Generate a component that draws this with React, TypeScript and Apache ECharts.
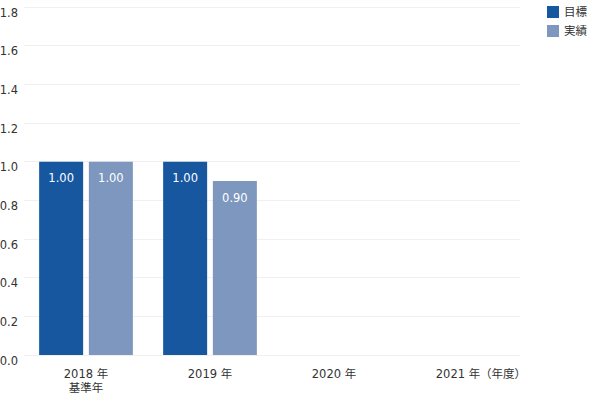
import React, { useEffect, useRef } from "react";
import * as echarts from "echarts";

const categories = ["2018 年\n基準年", "2019 年", "2020 年", "2021 年"];
const targetValues: (number | null)[] = [1.0, 1.0, null, null];
const actualValues: (number | null)[] = [1.0, 0.9, null, null];
const seriesNames = ["目標", "実績"];
const unitLabel = "（年度）";

const FONT = "'DejaVu Sans', Verdana, 'Noto Sans CJK JP', sans-serif";

export default function App() {
  const ref = useRef<HTMLDivElement>(null);
  useEffect(() => {
    if (!ref.current) return;
    const chart = echarts.init(ref.current, null, { renderer: "svg" });
    const labelCfg = {
      show: true,
      position: "insideTop",
      distance: 11,
      color: "#ffffff",
      fontSize: 11.5,
      fontFamily: FONT,
      formatter: (p: any) => Number(p.value).toFixed(2),
    };
    chart.setOption({
      animation: false,
      textStyle: { fontFamily: FONT },
      grid: {
        left: 24,
        right: 80,
        top: 7,
        bottom: 42,
        containLabel: false,
        outerBoundsMode: "none",
      },
      legend: {
        orient: "vertical",
        left: 547,
        top: 6,
        padding: 0,
        itemWidth: 12,
        itemHeight: 12,
        itemGap: 7,
        icon: "rect",
        textStyle: { fontSize: 11.5, color: "#333", fontFamily: FONT },
        data: seriesNames,
      },
      xAxis: {
        type: "category",
        data: categories,
        axisLine: { show: false },
        axisTick: { show: false },
        axisLabel: {
          color: "#333",
          fontSize: 11.5,
          fontFamily: FONT,
          margin: 12,
          lineHeight: 14,
        },
      },
      yAxis: {
        type: "value",
        min: 0,
        max: 1.8,
        interval: 0.2,
        axisLine: { show: false },
        axisTick: { show: false },
        splitLine: { lineStyle: { color: "#f0f0f0", width: 1 } },
        axisLabel: {
          color: "#333",
          fontSize: 11.5,
          fontFamily: FONT,
          margin: 6,
          verticalAlign: "top",
          formatter: (v: number) => v.toFixed(1),
        },
      },
      series: [
        {
          name: seriesNames[0],
          type: "bar",
          data: targetValues,
          barWidth: 44,
          barGap: "13%",
          itemStyle: { color: "#1757a0" },
          label: labelCfg,
        },
        {
          name: seriesNames[1],
          type: "bar",
          data: actualValues,
          barWidth: 44,
          itemStyle: { color: "#7d97be" },
          label: labelCfg,
        },
      ],
      graphic: [
        {
          type: "text",
          left: 480,
          top: 368,
          style: { text: unitLabel, fontSize: 11.5, fill: "#333", fontFamily: FONT },
        },
      ],
    });
    return () => chart.dispose();
  }, []);
  return (
    <div
      ref={ref}
      style={{ position: "fixed", left: 0, top: 0, width: 600, height: 397, background: "#fff" }}
    />
  );
}
